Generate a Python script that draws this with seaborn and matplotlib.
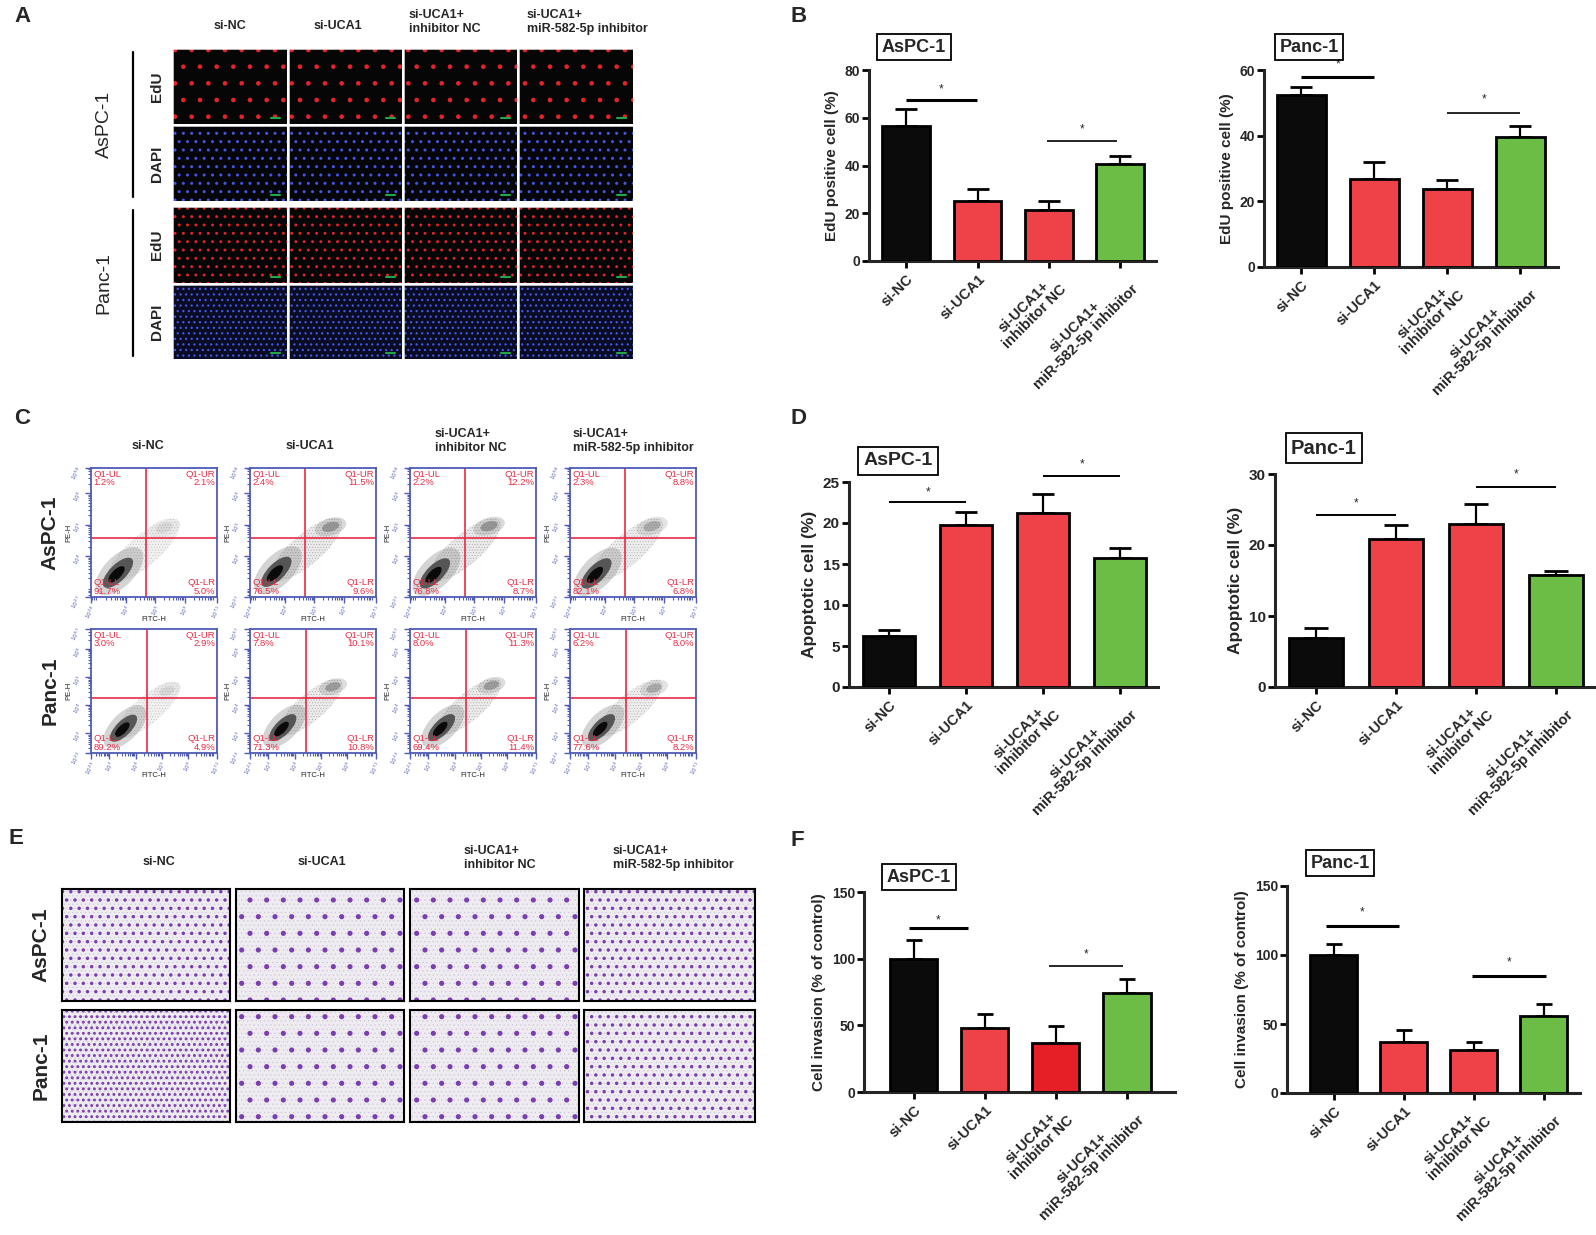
import matplotlib
matplotlib.use("Agg")
import matplotlib.pyplot as plt
import numpy as np
import pandas as pd
import seaborn as sns
from matplotlib.patches import Rectangle, Ellipse

# ---- data ----
groups = ["si-NC", "si-UCA1", "si-UCA1+\ninhibitor NC", "si-UCA1+\nmiR-582-5p inhibitor"]
col_headers = ["si-NC", "si-UCA1", "si-UCA1+\ninhibitor NC", "si-UCA1+\nmiR-582-5p inhibitor"]
cell_lines = ["AsPC-1", "Panc-1"]

edu_aspc = [56.6, 25.0, 21.5, 40.5]
edu_aspc_top = [63.7, 30.3, 25.0, 43.9]
edu_panc = [52.3, 26.8, 23.7, 39.6]
edu_panc_top = [54.7, 31.9, 26.6, 43.0]

apo_aspc = [6.2, 19.7, 21.2, 15.7]
apo_aspc_top = [7.0, 21.4, 23.5, 16.9]
apo_panc = [6.9, 20.8, 23.0, 15.8]
apo_panc_top = [8.3, 22.8, 25.8, 16.3]

inv_aspc = [100, 48, 37, 74]
inv_aspc_top = [114, 58.5, 49.5, 85]
inv_panc = [100, 36.7, 31, 56]
inv_panc_top = [107.7, 45.7, 37, 64.7]

# significance brackets: (from, to, line y, star y)
sig_edu_aspc = [(0, 0.99, 67.4, 71.8), (1.98, 2.96, 50.4, 55.0)]
sig_edu_panc = [(0, 1, 57.8, 61.8), (2, 3, 47.0, 51.0)]
sig_apo_aspc = [(0, 1, 22.6, 23.7), (2, 3, 25.7, 27.2)]
sig_apo_panc = [(0, 1, 24.2, 25.9), (2, 3, 28.2, 29.9)]
sig_inv_aspc = [(-0.06, 0.76, 122.8, 128.5), (1.91, 2.95, 94.5, 103.0)]
sig_inv_panc = [(-0.11, 0.93, 120.8, 130.5), (1.97, 3.03, 85.0, 94.5)]

# flow cytometry quadrant percentages (UL, UR, LL, LR)
flow_aspc = [(1.2, 2.1, 91.7, 5.0), (2.4, 11.5, 76.5, 9.6), (2.2, 12.2, 76.8, 8.7), (2.3, 8.8, 82.1, 6.8)]
flow_panc = [(3.0, 2.9, 89.2, 4.9), (7.8, 10.1, 71.3, 10.8), (8.0, 11.3, 69.4, 11.4), (6.2, 8.0, 77.6, 8.2)]
flow_core_aspc = [(3.72, 3.47), (3.70, 3.50), (3.65, 3.45), (3.70, 3.45)]
flow_core_panc = [(3.54, 3.18), (3.55, 3.20), (3.50, 3.20), (3.50, 3.20)]
flow_ur_aspc = [(5.3, 4.9), (5.55, 4.93), (5.5, 4.95), (5.6, 4.95)]
flow_ur_panc = [(5.2, 4.5), (5.46, 4.65), (5.4, 4.7), (5.5, 4.6)]
flow_ur_weight_aspc = [0.15, 0.6, 0.6, 0.45]
flow_ur_weight_panc = [0.15, 0.55, 0.55, 0.45]

BLACK = "#0b0b0b"
RED = "#ef4148"
RED_DARK = "#e61f27"
GREEN = "#6bbd45"
FLOW_BLUE = "#4f5bb5"
FLOW_RED = "#ea2a45"

W, H = 1596, 1235

sns.set_theme(style="ticks")
plt.rcParams["font.family"] = ["Liberation Sans", "DejaVu Sans"]

fig = plt.figure(figsize=(W / 100, H / 100), dpi=100)
fig.patch.set_facecolor("white")


def px_axes(x0, y0, x1, y1):
    return fig.add_axes([x0 / W, 1 - y1 / H, (x1 - x0) / W, (y1 - y0) / H])


def fig_text(x, y, s, **kw):
    return fig.text(x / W, 1 - y / H, s, **kw)


def dotted_rect(ax, face, dots, hatch, lw):
    plt.rcParams["hatch.linewidth"] = lw
    ax.add_patch(Rectangle((0, 0), 1, 1, transform=ax.transAxes, fc=face,
                           ec=dots, hatch=hatch, lw=0))


def bar_panel(box, xlim, vals, tops, colors, ylim, yticks, ylabel, label_kw,
              title, title_xy, title_size, sigs, sig_lw, capsize, ytick_size=10):
    ax = px_axes(*box)
    df = pd.DataFrame({"group": groups, "value": vals})
    sns.barplot(data=df, x="group", y="value", hue="group", palette=colors,
                legend=False, width=0.67, edgecolor="black", linewidth=2.0,
                saturation=1, errorbar=None, ax=ax, zorder=3)
    lower = np.zeros(len(vals))
    upper = np.array(tops) - np.array(vals)
    ax.errorbar(range(len(vals)), vals, yerr=[lower, upper], fmt="none",
                ecolor="black", elinewidth=1.6, capsize=capsize, capthick=2.0, zorder=2)
    ax.set_xlim(*xlim)
    ax.set_ylim(*ylim)
    ax.set_yticks(yticks)
    ax.set_xlabel("")
    ax.set_ylabel(ylabel, labelpad=4, **label_kw)
    sns.despine(ax=ax)
    for sp in ["left", "bottom"]:
        ax.spines[sp].set_linewidth(2.2)
    ax.tick_params(axis="both", length=5, width=2.0, color="black")
    ax.tick_params(axis="y", labelsize=ytick_size, pad=1.5)
    for lab in ax.get_yticklabels():
        lab.set_fontweight("bold")
    ax.set_xticks(range(len(groups)))
    ax.set_xticklabels(groups, rotation=45, ha="right", va="top",
                       rotation_mode="anchor", fontsize=10.5,
                       fontweight="bold", multialignment="center", linespacing=1.05)
    ax.tick_params(axis="x", pad=3)
    ax.set_facecolor("white")
    ax.grid(False)
    for (x0, x1, y, ys), lw in zip(sigs, sig_lw):
        ax.plot([x0, x1], [y, y], color="black", lw=lw, clip_on=False,
                solid_capstyle="butt")
        ax.text((x0 + x1) / 2, ys, "*", ha="center", va="center", fontsize=8.5,
                clip_on=False)
    fig_text(*title_xy, title, ha="center", va="center", fontsize=title_size,
             fontweight="bold",
             bbox=dict(boxstyle="square,pad=0.26", fc="white", ec="black", lw=1.3))
    return ax


bold_label = dict(fontsize=11, fontweight="bold")
apo_label = dict(fontsize=12.5, fontweight="bold")

# ---------------- panel letters ----------------
for letter, (lx, ly) in zip("ABCDEF", [(14, 16), (790, 16), (14, 418), (790, 418), (8, 838), (790, 840)]):
    fig_text(lx, ly, letter, fontsize=16, fontweight="bold", ha="left", va="center")

# ---------------- panel A: EdU / DAPI images ----------------
a_cols = [(173, 287), (289, 402), (404, 517), (519, 633)]
a_rows = [(49, 124), (126, 201), (207, 283), (285, 359)]
a_row_stain = ["EdU", "DAPI", "EdU", "DAPI"]
a_hatch = [".", "..", "..", "..."]
a_dot = ["#e3242b", "#4356dc", "#e3242b", "#4356dc"]
a_bg = ["#060606", "#05050a", "#060606", "#0a0c24"]
a_dot_lw = [0.9, 1.0, 0.9, 0.9]
a_header_x = [230, 338, 409, 527]
for ci, ((x0, x1), hx, head) in enumerate(zip(a_cols, a_header_x, col_headers)):
    if "\n" in head:
        fig_text(hx, 22, head, ha="left", va="center", fontsize=9, fontweight="bold", linespacing=1.2)
    else:
        fig_text(hx, 26, head, ha="center", va="center", fontsize=9, fontweight="bold")
    for ri, (y0, y1) in enumerate(a_rows):
        ax = px_axes(x0, y0, x1, y1)
        ax.set_xticks([]); ax.set_yticks([])
        ax.set_facecolor(a_bg[ri])
        dotted_rect(ax, a_bg[ri], a_dot[ri], a_hatch[ri], a_dot_lw[ri])
        ax.plot([0.86, 0.94], [0.08, 0.08], transform=ax.transAxes, color="#1fa845", lw=1.5)
        for sp in ax.spines.values():
            sp.set_color("white"); sp.set_linewidth(0.5)
for (y0, y1), stain in zip(a_rows, a_row_stain):
    fig_text(157, (y0 + y1) / 2, stain, rotation=90, ha="center", va="center",
             fontsize=11, fontweight="bold")
for (y0, y1), line in zip([(52, 197), (210, 356)], cell_lines):
    fig.add_artist(plt.Line2D([133 / W, 133 / W], [1 - y0 / H, 1 - y1 / H], color="black", lw=1.6))
    fig_text(104, (y0 + y1) / 2, line, rotation=90, ha="center", va="center", fontsize=14)

# ---------------- panel B ----------------
bar_panel((869, 70, 1156, 261), (-0.52, 3.5), edu_aspc, edu_aspc_top,
          [BLACK, RED, RED, GREEN], (0, 80), [0, 20, 40, 60, 80],
          "EdU positive cell (%)", bold_label, "AsPC-1", (914, 47), 13,
          sig_edu_aspc, [2.2, 1.2], 8)
bar_panel((1264, 70, 1558, 267), (-0.51, 3.52), edu_panc, edu_panc_top,
          [BLACK, RED, RED, GREEN], (0, 60), [0, 20, 40, 60],
          "EdU positive cell (%)", bold_label, "Panc-1", (1309, 47), 13,
          sig_edu_panc, [2.2, 1.2], 8)

# ---------------- panel C: flow cytometry ----------------
c_cols = [(91, 217), (250, 376), (410, 536), (570, 696)]
c_rows = [(468, 597), (629, 753)]
c_header_x = [148, 310, 435, 573]
row_xr = [(2.8, 7.1), (2.3, 7.1)]
row_yr = [(2.7, 6.8), (2.3, 6.7)]
row_lines = [(4.69, 4.57), (4.45, 4.25)]
row_flow = [flow_aspc, flow_panc]
row_core = [flow_core_aspc, flow_core_panc]
row_ur = [flow_ur_aspc, flow_ur_panc]
row_urw = [flow_ur_weight_aspc, flow_ur_weight_panc]

for ci, (hx, head) in enumerate(zip(c_header_x, col_headers)):
    if "\n" in head:
        fig_text(hx, 441, head, ha="left", va="center", fontsize=9, fontweight="bold", linespacing=1.2)
    else:
        fig_text(hx, 446, head, ha="center", va="center", fontsize=9, fontweight="bold")


def fmt_exp(v):
    return r"$10^{%s}$" % (("%.1f" % v).rstrip("0").rstrip("."))


for ri, (y0, y1) in enumerate(c_rows):
    for ci, (x0, x1) in enumerate(c_cols):
        ax = px_axes(x0, y0, x1, y1)
        xr, yr = row_xr[ri], row_yr[ri]
        ax.set_xlim(*xr); ax.set_ylim(*yr)
        ax.set_facecolor("white")
        for sp in ax.spines.values():
            sp.set_color(FLOW_BLUE); sp.set_linewidth(1.3)
        cx, cy = row_core[ri][ci]
        ux, uy = row_ur[ri][ci]
        w = row_urw[ri][ci]
        band = ((cx + ux) / 2 + 0.1, (cy + uy) / 2)
        ax.add_patch(Ellipse(band, 3.0, 1.0, angle=38, fc="#b5b5b5", ec="none", alpha=0.15 + 0.2 * w))
        ax.add_patch(Ellipse((ux, uy), 1.1, 0.55, angle=15, fc="#9a9a9a", ec="none", alpha=w * 0.6))
        ax.add_patch(Ellipse((ux, uy), 0.6, 0.3, angle=15, fc="#4a4a4a", ec="none", alpha=w * 0.7))
        ax.add_patch(Ellipse((cx + 0.05, cy + 0.05), 2.0, 1.0, angle=42, fc="#a0a0a0", ec="none", alpha=0.45))
        plt.rcParams["hatch.linewidth"] = 0.4
        ax.add_patch(Ellipse(band, 3.0, 1.0, angle=38, fc="none", ec="#707070",
                             hatch="......", lw=0, alpha=0.25 + 0.35 * w))
        ax.add_patch(Ellipse((cx, cy), 1.3, 0.55, angle=42, fc="#3a3a3a", ec="none", alpha=0.8))
        ax.add_patch(Ellipse((cx - 0.05, cy - 0.05), 0.7, 0.3, angle=42, fc="#0a0a0a", ec="none"))
        ax.axvline(row_lines[ri][0], color=FLOW_RED, lw=1.2)
        ax.axhline(row_lines[ri][1], color=FLOW_RED, lw=1.2)
        ul, ur, ll, lr = row_flow[ri][ci]
        qkw = dict(transform=ax.transAxes, color=FLOW_RED, fontsize=6.8, linespacing=0.9)
        ax.text(0.02, 0.985, "Q1-UL\n%.1f%%" % ul, ha="left", va="top", **qkw)
        ax.text(0.985, 0.985, "Q1-UR\n%.1f%%" % ur, ha="right", va="top", **qkw)
        ax.text(0.02, 0.01, "Q1-LL\n%.1f%%" % ll, ha="left", va="bottom", **qkw)
        ax.text(0.985, 0.01, "Q1-LR\n%.1f%%" % lr, ha="right", va="bottom", **qkw)
        xt = [xr[0]] + [v for v in range(3, 8) if xr[0] + 0.4 < v < xr[1] - 0.4] + [xr[1]]
        yt = [yr[0]] + [v for v in range(3, 8) if yr[0] + 0.4 < v < yr[1] - 0.4] + [yr[1]]
        ax.set_xticks(xt); ax.set_yticks(yt)
        ax.set_xticklabels([fmt_exp(v) for v in xt], fontsize=4, rotation=60, color=FLOW_BLUE)
        ax.set_yticklabels([fmt_exp(v) for v in yt], fontsize=4, rotation=60, color=FLOW_BLUE)
        minor_x = [d + np.log10(k) for d in range(2, 8) for k in range(2, 10) if xr[0] < d + np.log10(k) < xr[1]]
        minor_y = [d + np.log10(k) for d in range(2, 8) for k in range(2, 10) if yr[0] < d + np.log10(k) < yr[1]]
        ax.set_xticks(minor_x, minor=True); ax.set_yticks(minor_y, minor=True)
        ax.tick_params(which="major", length=4, width=1.0, color=FLOW_BLUE, pad=0.5)
        ax.tick_params(which="minor", length=2.5, width=0.8, color=FLOW_BLUE)
        ax.set_xlabel("FITC-H", fontsize=5.5)
        ax.set_ylabel("PE-H", fontsize=5.5)
        ax.xaxis.set_label_coords(0.5, -0.15)
        ax.yaxis.set_label_coords(-0.15, 0.5)
        ax.grid(False)
for (y0, y1), line in zip(c_rows, cell_lines):
    fig_text(50, (y0 + y1) / 2, line, rotation=90, ha="center", va="center", fontsize=15, fontweight="bold")

# ---------------- panel D ----------------
bar_panel((849, 482, 1158, 687), (-0.52, 3.49), apo_aspc, apo_aspc_top,
          [BLACK, RED, RED, GREEN], (0, 25), [0, 5, 10, 15, 20, 25],
          "Apoptotic cell (%)", apo_label, "AsPC-1", (898, 461), 14,
          sig_apo_aspc, [1.4, 1.4], 8, ytick_size=11)
bar_panel((1275, 474, 1596, 687), (-0.51, 3.5), apo_panc, apo_panc_top,
          [BLACK, RED, RED, GREEN], (0, 30), [0, 10, 20, 30],
          "Apoptotic cell (%)", apo_label, "Panc-1", (1324, 448), 14.5,
          sig_apo_panc, [1.4, 1.4], 8.5, ytick_size=11)

# ---------------- panel E: transwell images ----------------
e_cols = [(62, 230), (236, 404), (410, 579), (584, 755)]
e_rows = [(889, 1001), (1010, 1122)]
e_header_x = [159, 322, 464, 613]
e_hatch = [["..", ".", ".", ".."], ["...", ".", ".", ".."]]
for ci, (hx, head) in enumerate(zip(e_header_x, col_headers)):
    if "\n" in head:
        fig_text(hx, 858, head, ha="left", va="center", fontsize=9, fontweight="bold", linespacing=1.2)
    else:
        fig_text(hx, 862, head, ha="center", va="center", fontsize=9, fontweight="bold")
for ri, (y0, y1) in enumerate(e_rows):
    for ci, (x0, x1) in enumerate(e_cols):
        ax = px_axes(x0, y0, x1, y1)
        ax.set_xticks([]); ax.set_yticks([])
        dotted_rect(ax, "#eeecf0", "#cfc6dc", "....", 0.4)
        plt.rcParams["hatch.linewidth"] = 1.3
        ax.add_patch(Rectangle((0, 0), 1, 1, transform=ax.transAxes, fc="none",
                               ec="#7b3eae", hatch=e_hatch[ri][ci], lw=0))
        for sp in ax.spines.values():
            sp.set_color("black"); sp.set_linewidth(1.5)
for (y0, y1), line in zip(e_rows, cell_lines):
    fig_text(41, (y0 + y1) / 2, line, rotation=90, ha="center", va="center", fontsize=15, fontweight="bold")

# ---------------- panel F ----------------
bar_panel((864, 892, 1175, 1092), (-0.7, 3.68), inv_aspc, inv_aspc_top,
          [BLACK, RED, RED_DARK, GREEN], (0, 150), [0, 50, 100, 150],
          "Cell invasion (% of control)", bold_label, "AsPC-1", (919, 877), 13,
          sig_inv_aspc, [2.2, 1.2], 5.5)
bar_panel((1287, 886, 1580, 1093), (-0.67, 3.52), inv_panc, inv_panc_top,
          [BLACK, RED, RED, GREEN], (0, 150), [0, 50, 100, 150],
          "Cell invasion (% of control)", bold_label, "Panc-1", (1340, 863), 13,
          sig_inv_panc, [2.2, 2.2], 5.5)

fig.savefig("out.png", dpi=100, facecolor="white")
